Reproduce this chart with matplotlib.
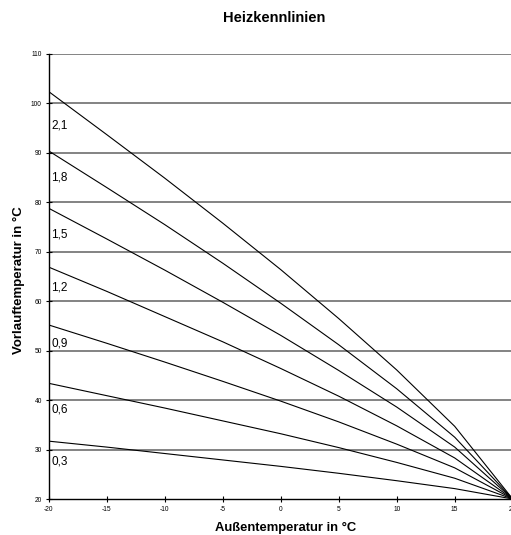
import matplotlib
matplotlib.use("Agg")
import matplotlib.pyplot as plt

# Außentemperatur (x) and Vorlauftemperatur values per Heizkennlinie
x_temps = [-20, -15, -10, -5, 0, 5, 10, 15, 20]
curve_names = ["2,1", "1,8", "1,5", "1,2", "0,9", "0,6", "0,3"]
k21 = [102.4, 93.7, 84.9, 75.8, 66.4, 56.5, 46.1, 34.7, 20]
k18 = [90.4, 83.0, 75.5, 67.7, 59.6, 51.2, 42.3, 32.5, 20]
k15 = [78.8, 72.6, 66.3, 59.8, 53.1, 46.0, 38.6, 30.5, 20]
k12 = [66.9, 62.0, 56.9, 51.8, 46.4, 40.8, 34.8, 28.3, 20]
k09 = [55.2, 51.5, 47.7, 43.8, 39.8, 35.6, 31.1, 26.3, 20]
k06 = [43.4, 40.9, 38.4, 35.8, 33.2, 30.4, 27.4, 24.2, 20]
k03 = [31.7, 30.5, 29.2, 27.9, 26.6, 25.2, 23.7, 22.1, 20]
curves = [k21, k18, k15, k12, k09, k06, k03]
label_y = [95.6, 85.1, 73.4, 62.7, 51.4, 38.0, 27.5]
x_ticks = [-20, -15, -10, -5, 0, 5, 10, 15, 20]
y_ticks = [20, 30, 40, 50, 60, 70, 80, 90, 100, 110]

plt.rcParams['font.family'] = ['Liberation Sans', 'DejaVu Sans']

fig = plt.figure(figsize=(5.11, 5.35), dpi=100)
ax = fig.add_axes([48.7 / 511, 36 / 535, 464 / 511, 445 / 535])

for yv in y_ticks[1:]:
    ax.axhline(yv, color='#7a7a7a', lw=1.3, zorder=1)

for vals in curves:
    ax.plot(x_temps, vals, color='black', lw=0.8, zorder=2)

for name, ly in zip(curve_names, label_y):
    ax.text(-19.8, ly, name, fontsize=8.5, ha='left', va='center', zorder=3)

ax.set_xlim(-20, 20)
ax.set_ylim(20, 110)
ax.set_xticks(x_ticks)
ax.set_yticks(y_ticks)
ax.set_xticklabels([str(v) for v in x_ticks], fontsize=4.8)
ax.set_yticklabels([str(v) for v in y_ticks], fontsize=4.8)
ax.tick_params(direction='inout', length=4, width=0.8, pad=3)

for s in ['top', 'right']:
    ax.spines[s].set_visible(False)
for s in ['left', 'bottom']:
    ax.spines[s].set_color('black')
    ax.spines[s].set_linewidth(1.0)

fig.text(274 / 511, 1 - 18 / 535, "Heizkennlinien", fontsize=10.5, fontweight='bold',
         ha='center', va='center')
ax.set_xlabel("Außentemperatur in °C", fontsize=9.4, fontweight='bold')
ax.set_ylabel("Vorlauftemperatur in °C", fontsize=9.5, fontweight='bold')
ax.xaxis.set_label_coords((286 - 48.7) / 464, (499 - 528) / 445)
ax.yaxis.set_label_coords((18.5 - 48.7) / 464, (499 - 280) / 445)
ax.xaxis.label.set_va('center')
ax.yaxis.label.set_va('center')

fig.savefig("out.png", dpi=100)
